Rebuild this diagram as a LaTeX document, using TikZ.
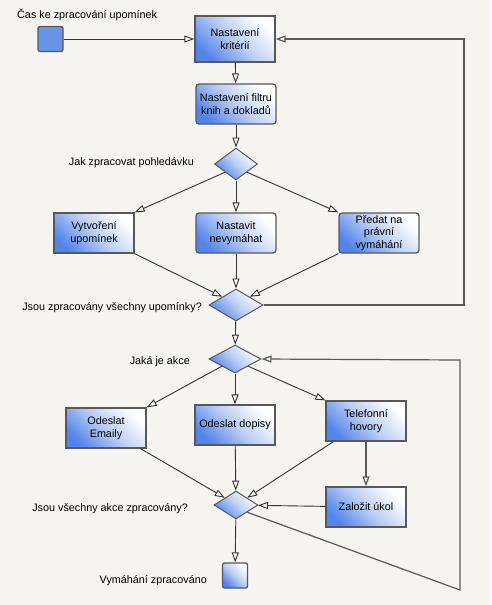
\documentclass[tikz,border=0pt]{standalone}
\usepackage{fontspec}
\setmainfont{Liberation Sans}
\usetikzlibrary{shapes.geometric,arrows.meta,calc}
\definecolor{bgc}{RGB}{245,244,240}
\definecolor{blc}{RGB}{84,132,232}
\definecolor{sqc}{RGB}{104,148,230}
\definecolor{bdc}{RGB}{88,88,88}
\newcommand\lblfont{\fontsize{10.8}{12.5}\selectfont}
\tikzset{
 shd/.style={top color=white, bottom color=blc, middle color=blc!40!white, shading angle=-45},
 box/.style={draw=bdc, line width=1.3pt, shd, minimum width=80pt, minimum height=40pt, inner sep=1pt, align=center, font=\lblfont},
 rbox/.style={box, rounded corners=3pt},
 dia/.style={diamond, draw=bdc, line width=1pt, shd, inner sep=0pt},
 lab/.style={font=\lblfont, inner sep=0pt},
 conn/.style={draw=black!80, line width=0.9pt, -{Triangle[open,length=10pt,width=7pt]}},
 loopc/.style={conn, draw=black!65, line width=1.2pt},
}
\begin{document}
\begin{tikzpicture}[x=1pt,y=-1pt]
\useasboundingbox (0,0) rectangle (491,605);
\fill[bgc] (0,0) rectangle (491,605);
% nodes
\node[draw=bdc, line width=1.3pt, fill=sqc, rounded corners=2pt, minimum width=25pt, minimum height=25pt, inner sep=0pt] (start) at (50.5,39) {};
\node[lab, anchor=west] (lstart) at (17,15) {Čas ke zpracování upomínek};
\node[box, minimum height=46pt] (k) at (235,39) {Nastavení\\kritérií};
\node[rbox] (f) at (236,104) {Nastavení filtru\\knih a dokladů};
\node[dia, minimum width=43pt, minimum height=32pt] (d1) at (236,164) {};
\node[lab, anchor=east] (l1) at (194,163) {Jak zpracovat pohledávku};
\node[box] (v) at (94,233) {Vytvoření\\upomínek};
\node[rbox] (n) at (236,233) {Nastavit\\nevymáhat};
\node[rbox] (p) at (379,233) {Předat na\\právní\\vymáhání};
\node[dia, minimum width=54pt, minimum height=32pt] (d2) at (236,305) {};
\node[lab, anchor=east] (l2) at (202,308) {Jsou zpracovány všechny upomínky?};
\node[dia, minimum width=52pt, minimum height=28pt] (d3) at (235,359) {};
\node[lab, anchor=east] (l3) at (190,362) {Jaká je akce};
\node[box] (e) at (106,428) {Odeslat\\Emaily};
\node[box] (o) at (235,425) {Odeslat dopisy};
\node[box] (t) at (366,421) {Telefonní\\hovory};
\node[box] (z) at (366,507) {Založit úkol};
\node[dia, minimum width=44pt, minimum height=28pt] (d4) at (236,505) {};
\node[lab, anchor=east] (l4) at (188,509) {Jsou všechny akce zpracovány?};
\node[draw=bdc, line width=1.3pt, shd, rounded corners=2pt, minimum width=25pt, minimum height=25pt, inner sep=0pt] (end) at (235,575.5) {};
\node[lab, anchor=east] (l5) at (207,581) {Vymáhání zpracováno};
% connectors
\draw[conn] (start) -- (k);
\draw[conn] (k) -- (f);
\draw[conn] (f) -- (d1);
\draw[conn] (d1.south west) -- (v.north east);
\draw[conn] (d1) -- (n);
\draw[conn] (d1.south east) -- (p.north west);
\draw[conn] (v.south east) -- (d2.north west);
\draw[conn] (n) -- (d2);
\draw[conn] (p.south west) -- (d2.north east);
\coordinate (c1) at (464,305);
\coordinate (c2) at (464,39);
\draw[loopc] (d2.east) -- (c1) -- (c2) -- (k.east);
\draw[conn] (d2) -- (d3);
\draw[conn] (d3.south west) -- (e.north east);
\draw[conn] (d3) -- (o);
\draw[conn] (d3.south east) -- (t.north west);
\draw[conn] ([xshift=-6pt]e.south east) -- (d4.north west);
\draw[conn] (o) -- (d4);
\draw[conn] ([xshift=8pt]t.south west) -- (d4.north east);
\draw[loopc] (t) -- (z);
\draw[conn] (z) -- (d4);
\draw[conn] (d4) -- (end);
\coordinate (c3) at (460,590);
\coordinate (c4) at (460,360);
\draw[loopc] (d4.south east) -- (c3) -- (c4) -- (d3.east);
\end{tikzpicture}
\end{document}
